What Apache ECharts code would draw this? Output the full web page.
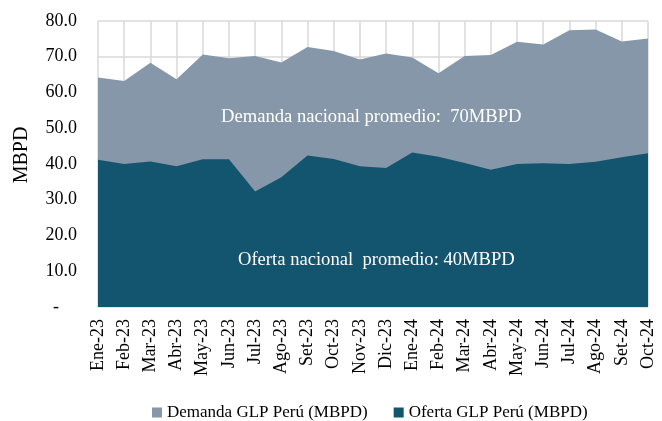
<!DOCTYPE html>
<html>
<head>
<meta charset="utf-8">
<script src="https://cdn.jsdelivr.net/npm/echarts@6/dist/echarts.min.js"></script>
<style>
  html, body { margin: 0; padding: 0; background: #fff; }
</style>
</head>
<body>
<div id="chart" style="width: 662px; height: 421px"></div>
<script>
// Months shown on the x axis
const months = [
  'Ene-23', 'Feb-23', 'Mar-23', 'Abr-23', 'May-23', 'Jun-23', 'Jul-23', 'Ago-23',
  'Set-23', 'Oct-23', 'Nov-23', 'Dic-23', 'Ene-24', 'Feb-24', 'Mar-24', 'Abr-24',
  'May-24', 'Jun-24', 'Jul-24', 'Ago-24', 'Set-24', 'Oct-24'
];

// Demanda GLP Perú (MBPD)
const demanda = [
  64.2, 63.2, 68.3, 63.7, 70.6, 69.6, 70.2, 68.4, 72.7, 71.6, 69.2,
  70.9, 69.8, 65.4, 70.2, 70.5, 74.2, 73.4, 77.4, 77.6, 74.3, 75.1
];

// Oferta GLP Perú (MBPD)
const oferta = [
  41.2, 40.0, 40.7, 39.4, 41.3, 41.3, 32.3, 36.3, 42.4, 41.4, 39.4,
  38.9, 43.2, 42.0, 40.3, 38.4, 40.0, 40.2, 40.0, 40.6, 41.9, 43.0
];

const serif = '"Liberation Serif", "Times New Roman", serif';

const myChart = echarts.init(document.getElementById('chart'));

const option = {
  animation: false,
  textStyle: { fontFamily: serif },
  grid: { left: 98, right: 14, top: 21, bottom: 114 },
  legend: {
    top: 404,
    left: 152,
    padding: 0,
    itemWidth: 10,
    itemHeight: 10,
    itemGap: 26,
    icon: 'rect',
    textStyle: { fontFamily: serif, fontSize: 17, color: '#000' },
    data: ['Demanda GLP Perú (MBPD)', 'Oferta GLP Perú (MBPD)']
  },
  xAxis: {
    type: 'category',
    data: months,
    boundaryGap: false,
    axisLine: { show: false },
    axisTick: { show: false },
    splitLine: { show: true, lineStyle: { color: '#d9d9d9', width: 1.5 } },
    axisLabel: {
      rotate: 90,
      interval: 0,
      margin: 12,
      fontFamily: serif,
      fontSize: 18,
      color: '#000'
    }
  },
  yAxis: {
    type: 'value',
    min: 0,
    max: 80,
    interval: 10,
    name: 'MBPD',
    nameLocation: 'middle',
    nameGap: 66,
    nameRotate: 90,
    nameTextStyle: { fontFamily: serif, fontSize: 20, color: '#000', padding: [0, 0, 0, 18] },
    axisLine: { show: false },
    axisTick: { show: false },
    splitLine: { show: true, lineStyle: { color: '#d9d9d9', width: 1.5 } },
    axisLabel: {
      margin: 21,
      fontFamily: serif,
      fontSize: 18,
      color: '#000',
      formatter: (v) => (v === 0 ? '-    ' : v.toFixed(1))
    }
  },
  graphic: [
    {
      type: 'text',
      z: 100,
      left: 221,
      top: 108,
      style: { text: 'Demanda nacional promedio:  70MBPD', fill: '#fff', font: '18.6px ' + serif }
    },
    {
      type: 'text',
      z: 100,
      left: 238,
      top: 251,
      style: { text: 'Oferta nacional  promedio: 40MBPD', fill: '#fff', font: '18.6px ' + serif }
    }
  ],
  series: [
    {
      name: 'Demanda GLP Perú (MBPD)',
      type: 'line',
      data: demanda,
      showSymbol: false,
      lineStyle: { width: 0 },
      itemStyle: { color: '#8597a8' },
      areaStyle: { color: '#8597a8', opacity: 1 }
    },
    {
      name: 'Oferta GLP Perú (MBPD)',
      type: 'line',
      data: oferta,
      showSymbol: false,
      lineStyle: { width: 0 },
      itemStyle: { color: '#13546f' },
      areaStyle: { color: '#13546f', opacity: 1 }
    }
  ]
};

myChart.setOption(option);

window.addEventListener('resize', () => {
  myChart.resize();
});
</script>
</body>
</html>
